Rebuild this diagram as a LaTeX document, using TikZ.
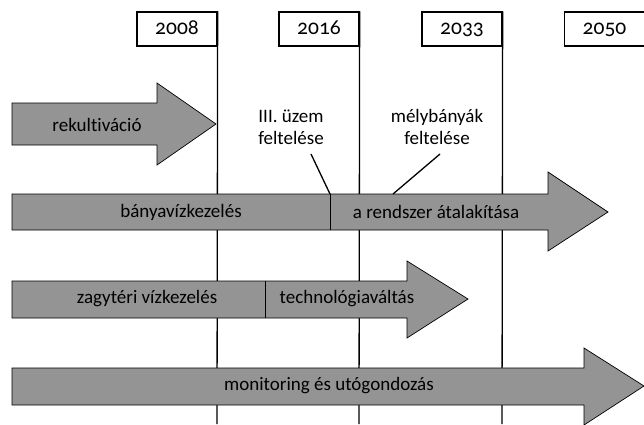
\documentclass[tikz,border=0pt]{standalone}
\usepackage{fontspec}
\setmainfont[Numbers=OldStyle,Ligatures=NoCommon]{Carlito}
\begin{document}
\begin{tikzpicture}[x=1pt,y=-1pt,
  yearbox/.style={draw,line width=1.3pt,fill=white,minimum width=80pt,minimum height=34pt,inner sep=0pt,text height=14pt,text depth=4pt,font=\fontsize{21.5}{24}\selectfont},
  bar/.style={draw,line width=0.7pt,fill=black!42},
  lbl/.style={font=\fontsize{19}{22}\selectfont,inner sep=0pt},
  yline/.style={line width=1.3pt},
  lead/.style={line width=1.3pt}]
\useasboundingbox (0,0) rectangle (644,424);
% year boxes
\node[yearbox] (y2008) at (177,29) {2008};
\node[yearbox] (y2016) at (319,29) {2016};
\node[yearbox] (y2033) at (462,29) {2033};
\node[yearbox] (y2050) at (604.5,29) {2050};
% vertical year lines (behind the bars)
\draw[yline] (y2008.north east) -- (217,424);
\draw[yline] (y2016.north east) -- (359,424);
\draw[yline] (y2033.north east) -- (502,424);
% bars
\draw[bar] (12,103) -- (157,103) -- (157,83) -- (216,124) -- (157,165) -- (157,145) -- (12,145) -- cycle;
\draw[bar] (12,194) -- (548,194) -- (548,172) -- (608,212) -- (548,251) -- (548,230) -- (12,230) -- cycle;
\draw[bar] (12,281) -- (407,281) -- (407,261) -- (468,299) -- (407,338) -- (407,318) -- (12,318) -- cycle;
\draw[bar] (12,368) -- (584,368) -- (584,348) -- (644,386) -- (584,425) -- (584,405) -- (12,405) -- cycle;
% dividers
\coordinate (d1t) at (330,194);
\draw[line width=1pt] (d1t) -- (330,230);
\draw[line width=1pt] (265,281) -- (265,318);
% labels
\node[lbl] (rek) at (97,125) {rekultiváció};
\node[lbl] (bany) at (181,212) {bányavízkezelés};
\node[lbl] (rend) at (436,212) {a rendszer átalakítása};
\node[lbl] (zag) at (147,299) {zagytéri vízkezelés};
\node[lbl] (tech) at (347,299) {technológiaváltás};
\node[lbl] (mon) at (329,386) {monitoring és utógondozás};
\node[lbl,align=center] (uzem) at (291,127) {III. üzem\\[0pt]feltelése};
\node[lbl,align=center] (mely) at (437,127) {mélybányák\\[0pt]feltelése};
\coordinate (m1) at (393,194);
\draw[lead] (311,154) -- (d1t);
\draw[lead] (440,154) -- (m1);
\end{tikzpicture}
\end{document}
